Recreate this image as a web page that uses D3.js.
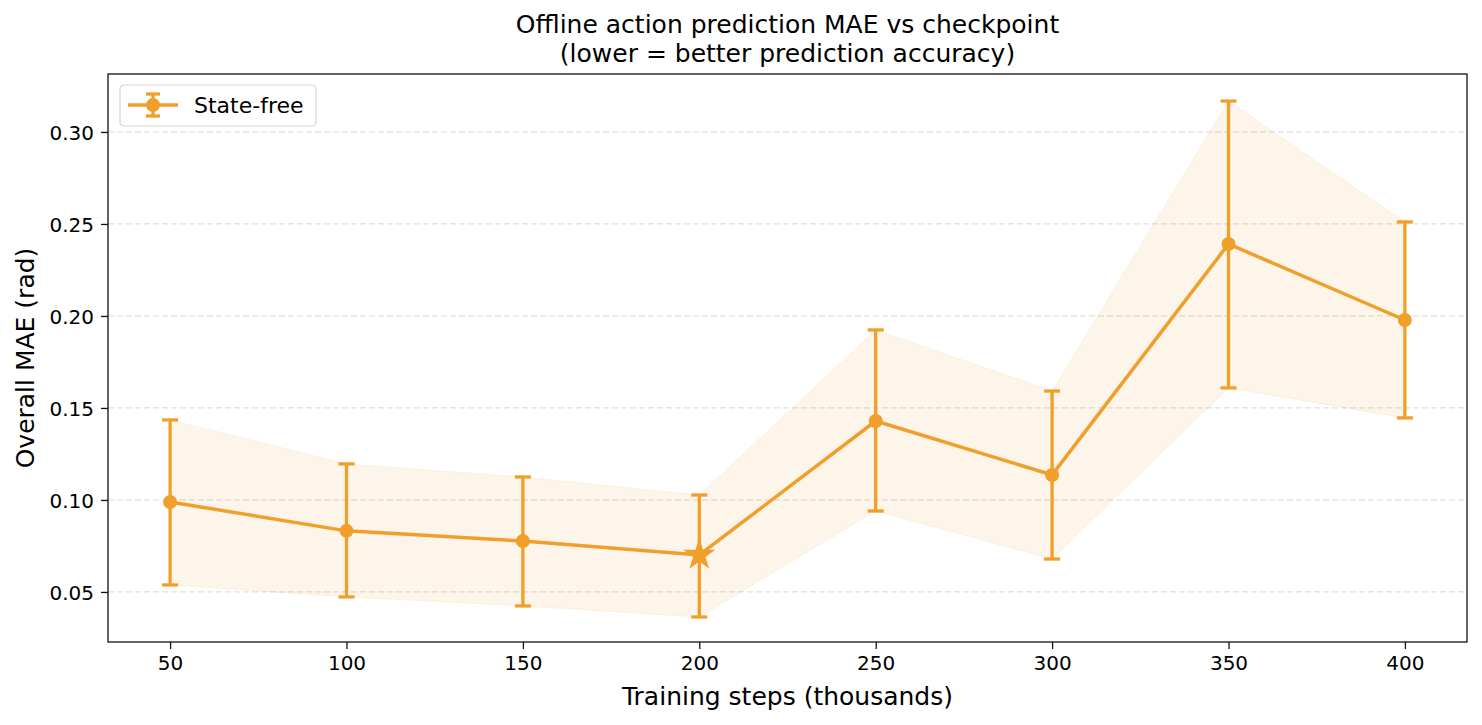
<!DOCTYPE html>
<html>
<head>
<meta charset="utf-8">
<script src="https://cdn.jsdelivr.net/npm/d3@7"></script>
<style>
	body { margin: 0; background: #fff; }
	svg { font-family: "DejaVu Sans", sans-serif; }
</style>
</head>
<body>
<div id="chart-area"></div>
<script>
// data
const steps = [50, 100, 150, 200, 250, 300, 350, 400];
const maeMean = [0.0989, 0.0832, 0.0777, 0.0701, 0.1429, 0.1136, 0.2391, 0.1978];
const maeLow = [0.0538, 0.0473, 0.0424, 0.0364, 0.0940, 0.0679, 0.1609, 0.1446];
const maeHigh = [0.1435, 0.1196, 0.1125, 0.1027, 0.1924, 0.1592, 0.3168, 0.2511];
const yTicks = [0.05, 0.10, 0.15, 0.20, 0.25, 0.30];
const bestStep = 200;
const seriesName = "State-free";

const color = "#f09f2a";

let data = steps.map((s, i) => ({ step: s, mean: maeMean[i], low: maeLow[i], high: maeHigh[i] }));

let margin = { top: 74, right: 15, bottom: 83, left: 108 },
	width = 1482 - margin.left - margin.right,
	height = 725 - margin.top - margin.bottom;

let svg = d3.select("#chart-area").append("svg")
	.attr("width", 1482)
	.attr("height", 725);

let g = svg.append("g")
	.attr("transform", "translate(" + margin.left + "," + margin.top + ")");

// scales
let x = d3.scaleLinear()
	.domain([32.4, 417.6])
	.range([0, width]);

let y = d3.scaleLinear()
	.domain([0.0228, 0.3315])
	.range([height, 0]);

// horizontal grid
g.selectAll(".grid")
	.data(yTicks)
	.enter()
	.append("line")
	.attr("x1", 0)
	.attr("x2", width)
	.attr("y1", d => y(d))
	.attr("y2", d => y(d))
	.attr("stroke", "#b0b0b0")
	.attr("stroke-opacity", 0.4)
	.attr("stroke-dasharray", "6,3")
	.attr("stroke-width", 1.2);

// band
let area = d3.area()
	.x(d => x(d.step))
	.y0(d => y(d.low))
	.y1(d => y(d.high));

g.append("path")
	.datum(data)
	.attr("d", area)
	.attr("fill", color)
	.attr("fill-opacity", 0.1)
	.attr("stroke", color)
	.attr("stroke-opacity", 0.1);

// error bars
let bars = g.selectAll(".err")
	.data(data)
	.enter()
	.append("g")
	.attr("stroke", color)
	.attr("stroke-width", 3.3);

bars.append("line")
	.attr("x1", d => x(d.step))
	.attr("x2", d => x(d.step))
	.attr("y1", d => y(d.low))
	.attr("y2", d => y(d.high));

bars.append("line")
	.attr("x1", d => x(d.step) - 8)
	.attr("x2", d => x(d.step) + 8)
	.attr("y1", d => y(d.low))
	.attr("y2", d => y(d.low));

bars.append("line")
	.attr("x1", d => x(d.step) - 8)
	.attr("x2", d => x(d.step) + 8)
	.attr("y1", d => y(d.high))
	.attr("y2", d => y(d.high));

// mean line
let line = d3.line()
	.x(d => x(d.step))
	.y(d => y(d.mean));

g.append("path")
	.datum(data)
	.attr("d", line)
	.attr("fill", "none")
	.attr("stroke", color)
	.attr("stroke-width", 3.5);

// markers
g.selectAll(".dot")
	.data(data.filter(d => d.step !== bestStep))
	.enter()
	.append("circle")
	.attr("cx", d => x(d.step))
	.attr("cy", d => y(d.mean))
	.attr("r", 7)
	.attr("fill", color);

g.selectAll(".best")
	.data(data.filter(d => d.step === bestStep))
	.enter()
	.append("path")
	.attr("d", d3.symbol().type(d3.symbolStar).size(320))
	.attr("transform", d => "translate(" + x(d.step) + "," + y(d.mean) + ")")
	.attr("fill", color);

// axes
let xAxis = d3.axisBottom(x)
	.tickValues(steps)
	.tickSize(7)
	.tickPadding(7)
	.tickFormat(d3.format("d"));

let yAxis = d3.axisLeft(y)
	.tickValues(yTicks)
	.tickSize(7)
	.tickPadding(7)
	.tickFormat(d3.format(".2f"));

let xg = g.append("g")
	.attr("transform", "translate(0," + height + ")")
	.call(xAxis);

let yg = g.append("g")
	.call(yAxis);

[xg, yg].forEach(a => {
	a.attr("font-size", null).attr("font-family", null);
	a.select(".domain").remove();
	a.selectAll("text").attr("font-size", 20).attr("fill", "#000");
	a.selectAll("line").attr("stroke", "#111").attr("stroke-width", 1.3);
});
yg.selectAll("text").attr("dy", "0.36em");

// frame
g.append("rect")
	.attr("width", width)
	.attr("height", height)
	.attr("fill", "none")
	.attr("stroke", "#111")
	.attr("stroke-width", 1.3);

// labels
svg.append("text")
	.attr("x", margin.left + width / 2)
	.attr("y", 705)
	.attr("text-anchor", "middle")
	.attr("font-size", 25)
	.text("Training steps (thousands)");

svg.append("text")
	.attr("transform", "translate(34," + (margin.top + height / 2) + ") rotate(-90)")
	.attr("text-anchor", "middle")
	.attr("font-size", 25)
	.text("Overall MAE (rad)");

svg.append("text")
	.attr("x", margin.left + width / 2)
	.attr("y", 33)
	.attr("text-anchor", "middle")
	.attr("font-size", 25)
	.text("Offline action prediction MAE vs checkpoint");

svg.append("text")
	.attr("x", margin.left + width / 2)
	.attr("y", 62)
	.attr("text-anchor", "middle")
	.attr("font-size", 25)
	.text("(lower = better prediction accuracy)");

// legend
let lg = svg.append("g")
	.attr("transform", "translate(120,85)");

lg.append("rect")
	.attr("width", 196)
	.attr("height", 41)
	.attr("rx", 4)
	.attr("fill", "#fff")
	.attr("fill-opacity", 0.8)
	.attr("stroke", "#d5d5d5")
	.attr("stroke-width", 1.2);

lg.append("line")
	.attr("x1", 8).attr("x2", 58)
	.attr("y1", 20).attr("y2", 20)
	.attr("stroke", color).attr("stroke-width", 3.5);

lg.append("line")
	.attr("x1", 33).attr("x2", 33)
	.attr("y1", 9).attr("y2", 31)
	.attr("stroke", color).attr("stroke-width", 3.3);

[9, 31].forEach(yy => {
	lg.append("line")
		.attr("x1", 26).attr("x2", 40)
		.attr("y1", yy).attr("y2", yy)
		.attr("stroke", color).attr("stroke-width", 3.3);
});

lg.append("circle")
	.attr("cx", 33).attr("cy", 20).attr("r", 7)
	.attr("fill", color);

lg.append("text")
	.attr("x", 74)
	.attr("y", 28)
	.attr("font-size", 22)
	.text(seriesName);
</script>
</body>
</html>
